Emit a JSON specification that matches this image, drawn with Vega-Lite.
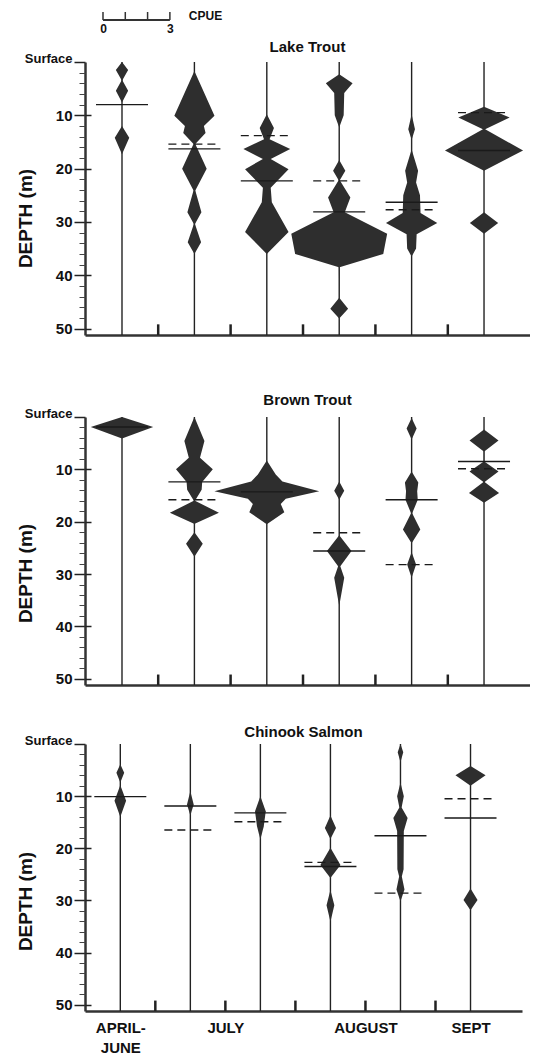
{
  "$schema": "https://vega.github.io/schema/vega-lite/v6.json",
  "background": "white",
  "padding": {"left": 16, "top": 10, "right": 0, "bottom": 0},
  "config": {"view": {"stroke": null}, "font": "Liberation Sans", "axis": {"grid": false}},
  "datasets": {
    "scalebar": [{"cpue": 0}, {"cpue": 1}, {"cpue": 2}, {"cpue": 3}],
    "cols": [{"col": 1}, {"col": 2}, {"col": 3}, {"col": 4}, {"col": 5}, {"col": 6}],
    "seps": [{"s": 1.5}, {"s": 2.5}, {"s": 3.5}, {"s": 4.5}, {"s": 5.5}],
    "kites": [
      {"sp": "LT", "col": 1, "d": 0, "c": 0}, {"sp": "LT", "col": 1, "d": 1.5, "c": 0.55}, {"sp": "LT", "col": 1, "d": 3.4, "c": 0.03}, {"sp": "LT", "col": 1, "d": 5.4, "c": 0.55}, {"sp": "LT", "col": 1, "d": 7.6, "c": 0}, {"sp": "LT", "col": 1, "d": 12, "c": 0}, {"sp": "LT", "col": 1, "d": 14.2, "c": 0.65}, {"sp": "LT", "col": 1, "d": 17.3, "c": 0},
      {"sp": "LT", "col": 2, "d": 1.7, "c": 0}, {"sp": "LT", "col": 2, "d": 10.1, "c": 1.8}, {"sp": "LT", "col": 2, "d": 12, "c": 0.85}, {"sp": "LT", "col": 2, "d": 13.3, "c": 1.0}, {"sp": "LT", "col": 2, "d": 15.4, "c": 0.08}, {"sp": "LT", "col": 2, "d": 20, "c": 1.1}, {"sp": "LT", "col": 2, "d": 24.1, "c": 0.08}, {"sp": "LT", "col": 2, "d": 28.2, "c": 0.63}, {"sp": "LT", "col": 2, "d": 30.4, "c": 0.05}, {"sp": "LT", "col": 2, "d": 33.8, "c": 0.6}, {"sp": "LT", "col": 2, "d": 36, "c": 0},
      {"sp": "LT", "col": 3, "d": 9.8, "c": 0}, {"sp": "LT", "col": 3, "d": 12.4, "c": 0.64}, {"sp": "LT", "col": 3, "d": 14.5, "c": 0.25}, {"sp": "LT", "col": 3, "d": 16.3, "c": 2.1}, {"sp": "LT", "col": 3, "d": 18.2, "c": 0.35}, {"sp": "LT", "col": 3, "d": 20.1, "c": 1.95}, {"sp": "LT", "col": 3, "d": 23.6, "c": 0.35}, {"sp": "LT", "col": 3, "d": 26.3, "c": 0.45}, {"sp": "LT", "col": 3, "d": 31.9, "c": 1.95}, {"sp": "LT", "col": 3, "d": 36, "c": 0},
      {"sp": "LT", "col": 4, "d": 2.3, "c": 0}, {"sp": "LT", "col": 4, "d": 4, "c": 1.2}, {"sp": "LT", "col": 4, "d": 5.8, "c": 0.45}, {"sp": "LT", "col": 4, "d": 10, "c": 0.4}, {"sp": "LT", "col": 4, "d": 12.3, "c": 0}, {"sp": "LT", "col": 4, "d": 18.4, "c": 0}, {"sp": "LT", "col": 4, "d": 20.4, "c": 0.55}, {"sp": "LT", "col": 4, "d": 22.2, "c": 0.05}, {"sp": "LT", "col": 4, "d": 25.4, "c": 1.0}, {"sp": "LT", "col": 4, "d": 28.2, "c": 0.5}, {"sp": "LT", "col": 4, "d": 32.2, "c": 4.3}, {"sp": "LT", "col": 4, "d": 36, "c": 3.95}, {"sp": "LT", "col": 4, "d": 38.5, "c": 0.03}, {"sp": "LT", "col": 4, "d": 44.2, "c": 0}, {"sp": "LT", "col": 4, "d": 46.3, "c": 0.8}, {"sp": "LT", "col": 4, "d": 48.1, "c": 0},
      {"sp": "LT", "col": 5, "d": 9.8, "c": 0}, {"sp": "LT", "col": 5, "d": 12.6, "c": 0.3}, {"sp": "LT", "col": 5, "d": 14.5, "c": 0.02}, {"sp": "LT", "col": 5, "d": 16.6, "c": 0.03}, {"sp": "LT", "col": 5, "d": 20.4, "c": 0.58}, {"sp": "LT", "col": 5, "d": 22.6, "c": 0.4}, {"sp": "LT", "col": 5, "d": 25, "c": 0.75}, {"sp": "LT", "col": 5, "d": 28.3, "c": 0.8}, {"sp": "LT", "col": 5, "d": 30.2, "c": 2.3}, {"sp": "LT", "col": 5, "d": 32.3, "c": 0.45}, {"sp": "LT", "col": 5, "d": 35, "c": 0.4}, {"sp": "LT", "col": 5, "d": 36.5, "c": 0},
      {"sp": "LT", "col": 6, "d": 8.4, "c": 0}, {"sp": "LT", "col": 6, "d": 10.4, "c": 2.3}, {"sp": "LT", "col": 6, "d": 12.6, "c": 0.1}, {"sp": "LT", "col": 6, "d": 16.6, "c": 3.5}, {"sp": "LT", "col": 6, "d": 20.4, "c": 0}, {"sp": "LT", "col": 6, "d": 28.2, "c": 0}, {"sp": "LT", "col": 6, "d": 30.2, "c": 1.27}, {"sp": "LT", "col": 6, "d": 32.2, "c": 0},
      {"sp": "BT", "col": 1, "d": 0, "c": 0}, {"sp": "BT", "col": 1, "d": 1.9, "c": 2.8}, {"sp": "BT", "col": 1, "d": 4.1, "c": 0},
      {"sp": "BT", "col": 2, "d": 0, "c": 0}, {"sp": "BT", "col": 2, "d": 4.6, "c": 0.9}, {"sp": "BT", "col": 2, "d": 7.8, "c": 0.5}, {"sp": "BT", "col": 2, "d": 10, "c": 1.65}, {"sp": "BT", "col": 2, "d": 12.4, "c": 0.7}, {"sp": "BT", "col": 2, "d": 13.9, "c": 0.65}, {"sp": "BT", "col": 2, "d": 16, "c": 0.05}, {"sp": "BT", "col": 2, "d": 18.3, "c": 2.2}, {"sp": "BT", "col": 2, "d": 20.4, "c": 0.03}, {"sp": "BT", "col": 2, "d": 22, "c": 0}, {"sp": "BT", "col": 2, "d": 24.2, "c": 0.75}, {"sp": "BT", "col": 2, "d": 26.7, "c": 0},
      {"sp": "BT", "col": 3, "d": 8.3, "c": 0}, {"sp": "BT", "col": 3, "d": 11, "c": 0.8}, {"sp": "BT", "col": 3, "d": 12.3, "c": 1.4}, {"sp": "BT", "col": 3, "d": 14.2, "c": 4.7}, {"sp": "BT", "col": 3, "d": 15.6, "c": 1.7}, {"sp": "BT", "col": 3, "d": 16.6, "c": 1.25}, {"sp": "BT", "col": 3, "d": 18.2, "c": 1.57}, {"sp": "BT", "col": 3, "d": 20.5, "c": 0},
      {"sp": "BT", "col": 4, "d": 12.3, "c": 0}, {"sp": "BT", "col": 4, "d": 14.1, "c": 0.45}, {"sp": "BT", "col": 4, "d": 15.8, "c": 0}, {"sp": "BT", "col": 4, "d": 22.6, "c": 0}, {"sp": "BT", "col": 4, "d": 25.6, "c": 1.1}, {"sp": "BT", "col": 4, "d": 28.5, "c": 0.1}, {"sp": "BT", "col": 4, "d": 30.7, "c": 0.45}, {"sp": "BT", "col": 4, "d": 36.1, "c": 0},
      {"sp": "BT", "col": 5, "d": 0.2, "c": 0}, {"sp": "BT", "col": 5, "d": 2.2, "c": 0.45}, {"sp": "BT", "col": 5, "d": 4.3, "c": 0}, {"sp": "BT", "col": 5, "d": 10.4, "c": 0}, {"sp": "BT", "col": 5, "d": 12.5, "c": 0.6}, {"sp": "BT", "col": 5, "d": 14.2, "c": 0.5}, {"sp": "BT", "col": 5, "d": 15.8, "c": 0.55}, {"sp": "BT", "col": 5, "d": 18.4, "c": 0.05}, {"sp": "BT", "col": 5, "d": 21.5, "c": 0.78}, {"sp": "BT", "col": 5, "d": 24, "c": 0.03}, {"sp": "BT", "col": 5, "d": 26, "c": 0.03}, {"sp": "BT", "col": 5, "d": 28.2, "c": 0.4}, {"sp": "BT", "col": 5, "d": 30.7, "c": 0},
      {"sp": "BT", "col": 6, "d": 2.4, "c": 0}, {"sp": "BT", "col": 6, "d": 4.5, "c": 1.3}, {"sp": "BT", "col": 6, "d": 6.6, "c": 0.02}, {"sp": "BT", "col": 6, "d": 8.5, "c": 0.02}, {"sp": "BT", "col": 6, "d": 10.4, "c": 1.3}, {"sp": "BT", "col": 6, "d": 12.4, "c": 0.05}, {"sp": "BT", "col": 6, "d": 14.5, "c": 1.35}, {"sp": "BT", "col": 6, "d": 16.4, "c": 0},
      {"sp": "CS", "col": 1, "d": 3.9, "c": 0}, {"sp": "CS", "col": 1, "d": 5.5, "c": 0.35}, {"sp": "CS", "col": 1, "d": 7.3, "c": 0.02}, {"sp": "CS", "col": 1, "d": 8, "c": 0.02}, {"sp": "CS", "col": 1, "d": 10.9, "c": 0.52}, {"sp": "CS", "col": 1, "d": 14, "c": 0},
      {"sp": "CS", "col": 2, "d": 9, "c": 0}, {"sp": "CS", "col": 2, "d": 11.6, "c": 0.3}, {"sp": "CS", "col": 2, "d": 13.7, "c": 0},
      {"sp": "CS", "col": 3, "d": 10, "c": 0}, {"sp": "CS", "col": 3, "d": 12.9, "c": 0.48}, {"sp": "CS", "col": 3, "d": 15.8, "c": 0.3}, {"sp": "CS", "col": 3, "d": 18.3, "c": 0},
      {"sp": "CS", "col": 4, "d": 13.7, "c": 0}, {"sp": "CS", "col": 4, "d": 16.1, "c": 0.5}, {"sp": "CS", "col": 4, "d": 18.2, "c": 0}, {"sp": "CS", "col": 4, "d": 19.9, "c": 0}, {"sp": "CS", "col": 4, "d": 23.2, "c": 0.9}, {"sp": "CS", "col": 4, "d": 25.7, "c": 0}, {"sp": "CS", "col": 4, "d": 28, "c": 0}, {"sp": "CS", "col": 4, "d": 30.9, "c": 0.35}, {"sp": "CS", "col": 4, "d": 34.1, "c": 0},
      {"sp": "CS", "col": 5, "d": 0, "c": 0}, {"sp": "CS", "col": 5, "d": 1.6, "c": 0.25}, {"sp": "CS", "col": 5, "d": 3.5, "c": 0}, {"sp": "CS", "col": 5, "d": 7.4, "c": 0}, {"sp": "CS", "col": 5, "d": 10, "c": 0.3}, {"sp": "CS", "col": 5, "d": 12.2, "c": 0.1}, {"sp": "CS", "col": 5, "d": 14.2, "c": 0.64}, {"sp": "CS", "col": 5, "d": 16.7, "c": 0.3}, {"sp": "CS", "col": 5, "d": 24, "c": 0.28}, {"sp": "CS", "col": 5, "d": 25.4, "c": 0.12}, {"sp": "CS", "col": 5, "d": 27.9, "c": 0.36}, {"sp": "CS", "col": 5, "d": 30.2, "c": 0},
      {"sp": "CS", "col": 6, "d": 4.2, "c": 0}, {"sp": "CS", "col": 6, "d": 6, "c": 1.35}, {"sp": "CS", "col": 6, "d": 8, "c": 0}, {"sp": "CS", "col": 6, "d": 27.7, "c": 0}, {"sp": "CS", "col": 6, "d": 29.9, "c": 0.63}, {"sp": "CS", "col": 6, "d": 31.9, "c": 0}
    ],
    "lines": [
      {"sp": "LT", "col": 1, "d": 8.0, "t": "solid"}, {"sp": "LT", "col": 2, "d": 15.4, "t": "dashed"}, {"sp": "LT", "col": 2, "d": 16.3, "t": "solid"}, {"sp": "LT", "col": 3, "d": 13.8, "t": "dashed"}, {"sp": "LT", "col": 3, "d": 22.3, "t": "solid"}, {"sp": "LT", "col": 4, "d": 22.3, "t": "dashed"}, {"sp": "LT", "col": 4, "d": 28.1, "t": "solid"}, {"sp": "LT", "col": 5, "d": 26.3, "t": "solid"}, {"sp": "LT", "col": 5, "d": 27.7, "t": "dashed"}, {"sp": "LT", "col": 6, "d": 9.5, "t": "dashed"}, {"sp": "LT", "col": 6, "d": 16.6, "t": "solid"},
      {"sp": "BT", "col": 1, "d": 1.9, "t": "solid"}, {"sp": "BT", "col": 2, "d": 12.4, "t": "solid"}, {"sp": "BT", "col": 2, "d": 15.8, "t": "dashed"}, {"sp": "BT", "col": 3, "d": 14.3, "t": "solid"}, {"sp": "BT", "col": 4, "d": 22.1, "t": "dashed"}, {"sp": "BT", "col": 4, "d": 25.6, "t": "solid"}, {"sp": "BT", "col": 5, "d": 15.8, "t": "solid"}, {"sp": "BT", "col": 5, "d": 28.2, "t": "dashed"}, {"sp": "BT", "col": 6, "d": 8.5, "t": "solid"}, {"sp": "BT", "col": 6, "d": 9.9, "t": "dashed"},
      {"sp": "CS", "col": 1, "d": 10.1, "t": "solid"}, {"sp": "CS", "col": 2, "d": 11.9, "t": "solid"}, {"sp": "CS", "col": 2, "d": 16.5, "t": "dashed"}, {"sp": "CS", "col": 3, "d": 13.2, "t": "solid"}, {"sp": "CS", "col": 3, "d": 14.9, "t": "dashed"}, {"sp": "CS", "col": 4, "d": 22.7, "t": "dashed"}, {"sp": "CS", "col": 4, "d": 23.5, "t": "solid"}, {"sp": "CS", "col": 5, "d": 17.6, "t": "solid"}, {"sp": "CS", "col": 5, "d": 28.6, "t": "dashed"}, {"sp": "CS", "col": 6, "d": 10.5, "t": "dashed"}, {"sp": "CS", "col": 6, "d": 14.2, "t": "solid"}
    ]
  },
  "spacing": 56,
  "vconcat": [
    {
      "spacing": 6,
      "vconcat": [
        {
          "width": 445, "height": 8,
          "layer": [
            {
              "data": {"name": "scalebar"},
              "mark": {"type": "rule", "color": "#333", "strokeWidth": 2},
              "encoding": {
                "x": {"aggregate": "min", "field": "cpue", "type": "quantitative", "scale": {"domain": [-0.807, 19.15], "nice": false, "zero": false}, "axis": {"values": [0, 3], "domain": false, "ticks": false, "labelPadding": 3, "labelFontSize": 12, "labelFontWeight": "bold", "labelColor": "#111", "title": null}},
                "x2": {"aggregate": "max", "field": "cpue"},
                "y": {"datum": 0, "type": "quantitative", "scale": {"domain": [0, 1], "nice": false}, "axis": null}
              }
            },
            {
              "data": {"name": "scalebar"},
              "mark": {"type": "rule", "color": "#333", "strokeWidth": 1.5},
              "encoding": {
                "x": {"field": "cpue", "type": "quantitative", "scale": {"domain": [-0.807, 19.15], "nice": false, "zero": false}, "axis": {"values": [0, 3], "domain": false, "ticks": false, "labelPadding": 3, "labelFontSize": 12, "labelFontWeight": "bold", "labelColor": "#111", "title": null}},
                "y": {"datum": 0, "type": "quantitative", "scale": {"domain": [0, 1], "nice": false}, "axis": null},
                "y2": {"datum": 1}
              }
            },
            {
              "data": {"values": [{"label": "CPUE"}]},
              "mark": {"type": "text", "align": "left", "baseline": "middle", "fontSize": 12, "fontWeight": "bold", "color": "#111"},
              "encoding": {
                "text": {"field": "label"},
                "x": {"datum": 3.85, "type": "quantitative", "scale": {"domain": [-0.807, 19.15], "nice": false, "zero": false}, "axis": {"values": [0, 3], "domain": false, "ticks": false, "labelPadding": 3, "labelFontSize": 12, "labelFontWeight": "bold", "labelColor": "#111", "title": null}},
                "y": {"datum": 0.5, "type": "quantitative", "scale": {"domain": [0, 1], "nice": false}, "axis": null}
              }
            }
          ]
        },
        {
          "width": 445, "height": 273,
          "title": {"text": "Lake Trout", "fontSize": 15, "fontWeight": "bold", "anchor": "middle", "frame": "group", "offset": -3, "color": "#111"},
          "layer": [
            {
              "data": {"name": "cols"},
              "mark": {"type": "rule", "color": "#222", "strokeWidth": 1.4},
              "encoding": {
                "x": {"field": "col", "type": "quantitative", "scale": {"domain": [0.489, 6.635], "nice": false, "zero": false}, "axis": {"title": null, "labels": false, "ticks": false, "domainWidth": 2.5, "domainColor": "#333"}}
              }
            },
            {
              "data": {"name": "kites"},
              "transform": [{"filter": "datum.sp == 'LT'"}, {"calculate": "datum.col - datum.c * 0.154", "as": "lo"}, {"calculate": "datum.col + datum.c * 0.154", "as": "hi"}],
              "mark": {"type": "area", "orient": "horizontal", "color": "#2e2e2e", "opacity": 1},
              "encoding": {
                "y": {"field": "d", "type": "quantitative", "scale": {"domain": [0, 51.2], "nice": false, "zero": false, "reverse": true}, "axis": {"orient": "left", "values": [0, 10, 20, 30, 40, 50], "labelExpr": "datum.value == 0 ? 'Surface' : datum.label", "labelFontSize": {"condition": {"test": "datum.value == 0", "value": 13}, "value": 15}, "labelBaseline": {"condition": {"test": "datum.value == 0", "value": "alphabetic"}, "value": "middle"}, "labelFontWeight": "bold", "labelColor": "#111", "labelFlush": false, "labelOverlap": false, "labelPadding": 2, "tickSize": 11, "tickWidth": 1.5, "tickColor": "#222", "domainWidth": 2.5, "domainColor": "#333", "title": "DEPTH (m)", "titleFontSize": 19, "titleFontWeight": "bold", "titleColor": "#111", "titleX": -50, "titleY": 156}},
                "x": {"field": "lo", "type": "quantitative", "scale": {"domain": [0.489, 6.635], "nice": false, "zero": false}, "axis": {"title": null, "labels": false, "ticks": false, "domainWidth": 2.5, "domainColor": "#333"}},
                "x2": {"field": "hi"},
                "detail": {"field": "col", "type": "nominal"}
              }
            },
            {
              "data": {"name": "lines"},
              "transform": [{"filter": "datum.sp == 'LT'"}],
              "mark": {"type": "rule", "color": "#1a1a1a", "strokeWidth": 1.4, "xOffset": -26, "x2Offset": 26},
              "encoding": {
                "x": {"field": "col", "type": "quantitative", "scale": {"domain": [0.489, 6.635], "nice": false, "zero": false}, "axis": {"title": null, "labels": false, "ticks": false, "domainWidth": 2.5, "domainColor": "#333"}},
                "x2": {"field": "col"},
                "y": {"field": "d", "type": "quantitative", "scale": {"domain": [0, 51.2], "nice": false, "zero": false, "reverse": true}, "axis": {"orient": "left", "values": [10, 20, 30, 40, 50], "labels": false, "domain": false, "tickSize": -6, "tickWidth": 1.5, "tickColor": "#222", "title": null}},
                "strokeDash": {"field": "t", "type": "nominal", "scale": {"domain": ["solid", "dashed"], "range": [[1, 0], [8, 5]]}, "legend": null}
              }
            },
            {
              "data": {"name": "seps"},
              "mark": {"type": "rule", "color": "#222", "strokeWidth": 2.5},
              "encoding": {
                "x": {"field": "s", "type": "quantitative", "scale": {"domain": [0.489, 6.635], "nice": false, "zero": false}, "axis": {"title": null, "labels": false, "ticks": false, "domainWidth": 2.5, "domainColor": "#333"}},
                "y": {"datum": 49.2, "type": "quantitative", "scale": {"domain": [0, 51.2], "nice": false, "zero": false, "reverse": true}, "axis": {"orient": "left", "values": [2, 4, 6, 8, 12, 14, 16, 18, 22, 24, 26, 28, 32, 34, 36, 38, 42, 44, 46, 48], "labels": false, "domain": false, "tickSize": 6, "tickWidth": 1, "tickColor": "#444", "title": null}},
                "y2": {"datum": 51.2}
              }
            }
          ],
          "resolve": {"axis": {"y": "independent"}}
        }
      ]
    },
    {
      "spacing": 38,
      "vconcat": [
        {
          "width": 445, "height": 268,
          "title": {"text": "Brown Trout", "fontSize": 15, "fontWeight": "bold", "anchor": "middle", "frame": "group", "offset": -1, "color": "#111"},
          "layer": [
            {
              "data": {"name": "cols"},
              "mark": {"type": "rule", "color": "#222", "strokeWidth": 1.4},
              "encoding": {
                "x": {"field": "col", "type": "quantitative", "scale": {"domain": [0.489, 6.635], "nice": false, "zero": false}, "axis": {"title": null, "labels": false, "ticks": false, "domainWidth": 2.5, "domainColor": "#333"}}
              }
            },
            {
              "data": {"name": "kites"},
              "transform": [{"filter": "datum.sp == 'BT'"}, {"calculate": "datum.col - datum.c * 0.154", "as": "lo"}, {"calculate": "datum.col + datum.c * 0.154", "as": "hi"}],
              "mark": {"type": "area", "orient": "horizontal", "color": "#2e2e2e", "opacity": 1},
              "encoding": {
                "y": {"field": "d", "type": "quantitative", "scale": {"domain": [0, 51.2], "nice": false, "zero": false, "reverse": true}, "axis": {"orient": "left", "values": [0, 10, 20, 30, 40, 50], "labelExpr": "datum.value == 0 ? 'Surface' : datum.label", "labelFontSize": {"condition": {"test": "datum.value == 0", "value": 13}, "value": 15}, "labelBaseline": {"condition": {"test": "datum.value == 0", "value": "alphabetic"}, "value": "middle"}, "labelFontWeight": "bold", "labelColor": "#111", "labelFlush": false, "labelOverlap": false, "labelPadding": 2, "tickSize": 11, "tickWidth": 1.5, "tickColor": "#222", "domainWidth": 2.5, "domainColor": "#333", "title": "DEPTH (m)", "titleFontSize": 19, "titleFontWeight": "bold", "titleColor": "#111", "titleX": -50, "titleY": 156}},
                "x": {"field": "lo", "type": "quantitative", "scale": {"domain": [0.489, 6.635], "nice": false, "zero": false}, "axis": {"title": null, "labels": false, "ticks": false, "domainWidth": 2.5, "domainColor": "#333"}},
                "x2": {"field": "hi"},
                "detail": {"field": "col", "type": "nominal"}
              }
            },
            {
              "data": {"name": "lines"},
              "transform": [{"filter": "datum.sp == 'BT'"}],
              "mark": {"type": "rule", "color": "#1a1a1a", "strokeWidth": 1.4, "xOffset": -26, "x2Offset": 26},
              "encoding": {
                "x": {"field": "col", "type": "quantitative", "scale": {"domain": [0.489, 6.635], "nice": false, "zero": false}, "axis": {"title": null, "labels": false, "ticks": false, "domainWidth": 2.5, "domainColor": "#333"}},
                "x2": {"field": "col"},
                "y": {"field": "d", "type": "quantitative", "scale": {"domain": [0, 51.2], "nice": false, "zero": false, "reverse": true}, "axis": {"orient": "left", "values": [10, 20, 30, 40, 50], "labels": false, "domain": false, "tickSize": -6, "tickWidth": 1.5, "tickColor": "#222", "title": null}},
                "strokeDash": {"field": "t", "type": "nominal", "scale": {"domain": ["solid", "dashed"], "range": [[1, 0], [8, 5]]}, "legend": null}
              }
            },
            {
              "data": {"name": "seps"},
              "mark": {"type": "rule", "color": "#222", "strokeWidth": 2.5},
              "encoding": {
                "x": {"field": "s", "type": "quantitative", "scale": {"domain": [0.489, 6.635], "nice": false, "zero": false}, "axis": {"title": null, "labels": false, "ticks": false, "domainWidth": 2.5, "domainColor": "#333"}},
                "y": {"datum": 49.2, "type": "quantitative", "scale": {"domain": [0, 51.2], "nice": false, "zero": false, "reverse": true}, "axis": {"orient": "left", "values": [2, 4, 6, 8, 12, 14, 16, 18, 22, 24, 26, 28, 32, 34, 36, 38, 42, 44, 46, 48], "labels": false, "domain": false, "tickSize": 6, "tickWidth": 1, "tickColor": "#444", "title": null}},
                "y2": {"datum": 51.2}
              }
            }
          ],
          "resolve": {"axis": {"y": "independent"}}
        },
        {
          "width": 437, "height": 267,
          "title": {"text": "Chinook Salmon", "fontSize": 15, "fontWeight": "bold", "anchor": "middle", "frame": "group", "offset": -6, "color": "#111"},
          "layer": [
            {
              "data": {"name": "cols"},
              "mark": {"type": "rule", "color": "#222", "strokeWidth": 1.4},
              "encoding": {
                "x": {"field": "col", "type": "quantitative", "scale": {"domain": [0.496, 6.735], "nice": false, "zero": false}, "axis": {"title": null, "values": [1, 2.5, 4.5, 6], "labelExpr": "datum.value == 1 ? ['APRIL-', 'JUNE'] : datum.value == 2.5 ? 'JULY' : datum.value == 4.5 ? 'AUGUST' : 'SEPT'", "labelFontSize": 15, "labelFontWeight": "bold", "labelColor": "#111", "labelPadding": 9, "labelLineHeight": 20, "labelFlush": false, "labelOverlap": false, "ticks": false, "domainWidth": 2.5, "domainColor": "#333"}}
              }
            },
            {
              "data": {"name": "kites"},
              "transform": [{"filter": "datum.sp == 'CS'"}, {"calculate": "datum.col - datum.c * 0.1593", "as": "lo"}, {"calculate": "datum.col + datum.c * 0.1593", "as": "hi"}],
              "mark": {"type": "area", "orient": "horizontal", "color": "#2e2e2e", "opacity": 1},
              "encoding": {
                "y": {"field": "d", "type": "quantitative", "scale": {"domain": [0, 51.2], "nice": false, "zero": false, "reverse": true}, "axis": {"orient": "left", "values": [0, 10, 20, 30, 40, 50], "labelExpr": "datum.value == 0 ? 'Surface' : datum.label", "labelFontSize": {"condition": {"test": "datum.value == 0", "value": 13}, "value": 15}, "labelBaseline": {"condition": {"test": "datum.value == 0", "value": "alphabetic"}, "value": "middle"}, "labelFontWeight": "bold", "labelColor": "#111", "labelFlush": false, "labelOverlap": false, "labelPadding": 2, "tickSize": 11, "tickWidth": 1.5, "tickColor": "#222", "domainWidth": 2.5, "domainColor": "#333", "title": "DEPTH (m)", "titleFontSize": 19, "titleFontWeight": "bold", "titleColor": "#111", "titleX": -50, "titleY": 157}},
                "x": {"field": "lo", "type": "quantitative", "scale": {"domain": [0.496, 6.735], "nice": false, "zero": false}, "axis": {"title": null, "values": [1, 2.5, 4.5, 6], "labelExpr": "datum.value == 1 ? ['APRIL-', 'JUNE'] : datum.value == 2.5 ? 'JULY' : datum.value == 4.5 ? 'AUGUST' : 'SEPT'", "labelFontSize": 15, "labelFontWeight": "bold", "labelColor": "#111", "labelPadding": 9, "labelLineHeight": 20, "labelFlush": false, "labelOverlap": false, "ticks": false, "domainWidth": 2.5, "domainColor": "#333"}},
                "x2": {"field": "hi"},
                "detail": {"field": "col", "type": "nominal"}
              }
            },
            {
              "data": {"name": "lines"},
              "transform": [{"filter": "datum.sp == 'CS'"}],
              "mark": {"type": "rule", "color": "#1a1a1a", "strokeWidth": 1.4, "xOffset": -26, "x2Offset": 26},
              "encoding": {
                "x": {"field": "col", "type": "quantitative", "scale": {"domain": [0.496, 6.735], "nice": false, "zero": false}, "axis": {"title": null, "values": [1, 2.5, 4.5, 6], "labelExpr": "datum.value == 1 ? ['APRIL-', 'JUNE'] : datum.value == 2.5 ? 'JULY' : datum.value == 4.5 ? 'AUGUST' : 'SEPT'", "labelFontSize": 15, "labelFontWeight": "bold", "labelColor": "#111", "labelPadding": 9, "labelLineHeight": 20, "labelFlush": false, "labelOverlap": false, "ticks": false, "domainWidth": 2.5, "domainColor": "#333"}},
                "x2": {"field": "col"},
                "y": {"field": "d", "type": "quantitative", "scale": {"domain": [0, 51.2], "nice": false, "zero": false, "reverse": true}, "axis": {"orient": "left", "values": [10, 20, 30, 40, 50], "labels": false, "domain": false, "tickSize": -6, "tickWidth": 1.5, "tickColor": "#222", "title": null}},
                "strokeDash": {"field": "t", "type": "nominal", "scale": {"domain": ["solid", "dashed"], "range": [[1, 0], [8, 5]]}, "legend": null}
              }
            },
            {
              "data": {"name": "seps"},
              "mark": {"type": "rule", "color": "#222", "strokeWidth": 2.5},
              "encoding": {
                "x": {"field": "s", "type": "quantitative", "scale": {"domain": [0.496, 6.735], "nice": false, "zero": false}, "axis": {"title": null, "values": [1, 2.5, 4.5, 6], "labelExpr": "datum.value == 1 ? ['APRIL-', 'JUNE'] : datum.value == 2.5 ? 'JULY' : datum.value == 4.5 ? 'AUGUST' : 'SEPT'", "labelFontSize": 15, "labelFontWeight": "bold", "labelColor": "#111", "labelPadding": 9, "labelLineHeight": 20, "labelFlush": false, "labelOverlap": false, "ticks": false, "domainWidth": 2.5, "domainColor": "#333"}},
                "y": {"datum": 49.2, "type": "quantitative", "scale": {"domain": [0, 51.2], "nice": false, "zero": false, "reverse": true}, "axis": {"orient": "left", "values": [2, 4, 6, 8, 12, 14, 16, 18, 22, 24, 26, 28, 32, 34, 36, 38, 42, 44, 46, 48], "labels": false, "domain": false, "tickSize": 6, "tickWidth": 1, "tickColor": "#444", "title": null}},
                "y2": {"datum": 51.2}
              }
            }
          ],
          "resolve": {"axis": {"y": "independent"}}
        }
      ]
    }
  ]
}
